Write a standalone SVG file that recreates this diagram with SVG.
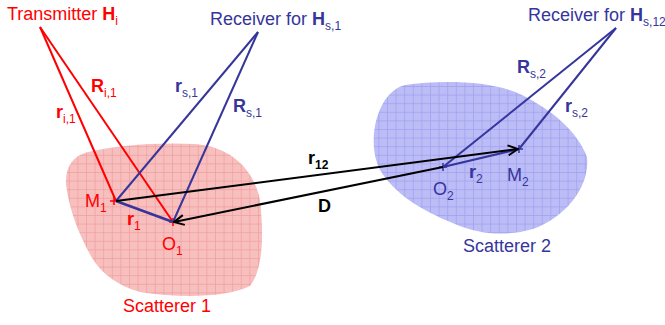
<svg xmlns="http://www.w3.org/2000/svg" width="665" height="325" viewBox="0 0 665 325">
<defs>
<style>
text{font-family:"Liberation Sans",Arial,sans-serif;font-size:18px}
.red{fill:#ff0000}
.blue{fill:#35359c}
.blk{fill:#000}
.b{font-weight:bold}
.sub{font-size:12px}
.lr{stroke:#ff0000;stroke-width:2;fill:none}
.lb{stroke:#35359c;stroke-width:2;fill:none}
.lk{stroke:#000;stroke-width:2;fill:none}
</style>
<pattern id="pg" width="8.6" height="8.6" patternUnits="userSpaceOnUse">
<rect width="8.6" height="8.6" fill="#f8bfbf"/>
<path d="M0,0.3H8.6M0.3,0V8.6" stroke="#f09a9a" stroke-width="0.8"/>
</pattern>
<pattern id="bg" width="8.6" height="8.6" patternUnits="userSpaceOnUse">
<rect width="8.6" height="8.6" fill="#bcbcf6"/>
<path d="M0,0.3H8.6M0.3,0V8.6" stroke="#9d9def" stroke-width="0.8"/>
</pattern>
<marker id="arr" viewBox="0 0 12 12" refX="11" refY="6" markerWidth="12" markerHeight="12" markerUnits="userSpaceOnUse" orient="auto">
<path d="M1,1 L11,6 L1,11" fill="none" stroke="#000" stroke-width="2"/>
</marker>
</defs>

<g id="scatterer1">
<path d="M88,152 C115,145 160,142 195,144 C232,147 254,170 260,200 C264,235 263,270 250,286 C225,298 180,298 140,292 C118,286 102,274 92,258 C82,240 70,215 66,185 C65,168 72,156 88,152 Z" fill="url(#pg)"/>
<text x="123" y="312" class="red">Scatterer 1</text>
</g>

<g id="scatterer2">
<path d="M405,85 C440,80 492,80 522,95 C552,110 578,132 587,157 C590,185 568,216 533,229 C505,237 478,234 455,224 C420,210 395,194 380,170 C370,150 372,120 385,100 C391,92 397,87 405,85 Z" fill="url(#bg)"/>
<text x="463" y="252" class="blue">Scatterer 2</text>
</g>

<g id="transmitter">
<text x="7" y="20" class="red">Transmitter <tspan class="b">H</tspan><tspan class="sub" dy="5">i</tspan></text>
</g>

<g id="receiver1">
<text x="210" y="25" class="blue">Receiver for <tspan class="b">H</tspan><tspan class="sub" dy="5">s,1</tspan></text>
</g>

<g id="receiver2">
<text x="528" y="21" class="blue">Receiver for <tspan class="b">H</tspan><tspan class="sub" dy="5">s,12</tspan></text>
</g>

<g id="M1">
<path d="M110,201H118M114,197V205" stroke="#ff0000" stroke-width="1.5"/>
<text x="85" y="207" class="red">M<tspan class="sub" dy="5">1</tspan></text>
</g>
<g id="O1">
<path d="M169,222H177M173,218V226" stroke="#ff0000" stroke-width="1.5"/>
<text x="162" y="250" class="red">O<tspan class="sub" dy="5">1</tspan></text>
</g>
<g id="M2">
<path d="M515,149H523M519,145V153" stroke="#35359c" stroke-width="1.5"/>
<text x="507" y="181" class="blue">M<tspan class="sub" dy="5">2</tspan></text>
</g>
<g id="O2">
<path d="M439,167H447M443,163V171" stroke="#35359c" stroke-width="1.5"/>
<text x="433" y="195" class="blue">O<tspan class="sub" dy="5">2</tspan></text>
</g>

<g id="connectors">
<line x1="40" y1="27" x2="116" y2="201" class="lr"/>
<line x1="40" y1="27" x2="173" y2="222" class="lr"/>
<line x1="258" y1="32" x2="116" y2="201" class="lb"/>
<line x1="258" y1="32" x2="173" y2="222" class="lb"/>
<line x1="616" y1="28" x2="519" y2="149" class="lb"/>
<line x1="616" y1="28" x2="443" y2="167" class="lb"/>
<line x1="116" y1="201" x2="173" y2="222" stroke="#35359c" stroke-width="2.5"/>
<line x1="443" y1="167" x2="519" y2="149" class="lb"/>
<line x1="116" y1="201" x2="518" y2="149" class="lk" marker-end="url(#arr)"/>
<line x1="443" y1="167" x2="174" y2="222" class="lk" marker-end="url(#arr)"/>

<text x="91" y="92" class="red b">R<tspan class="sub" font-weight="normal" dy="5">i,1</tspan></text>
<text x="56" y="118" class="red b">r<tspan class="sub" font-weight="normal" dy="5">i,1</tspan></text>
<text x="175" y="92" class="blue b">r<tspan class="sub" font-weight="normal" dy="5">s,1</tspan></text>
<text x="233" y="112" class="blue b">R<tspan class="sub" font-weight="normal" dy="5">s,1</tspan></text>
<text x="517" y="73" class="blue b">R<tspan class="sub" font-weight="normal" dy="5">s,2</tspan></text>
<text x="565" y="112" class="blue b">r<tspan class="sub" font-weight="normal" dy="5">s,2</tspan></text>
<text x="308" y="164" class="blk b">r<tspan class="sub" dy="5">12</tspan></text>
<text x="318" y="212" class="blk b">D</text>
<text x="127" y="225" class="red b">r<tspan class="sub" font-weight="normal" dy="5">1</tspan></text>
<text x="469" y="178" class="blue b">r<tspan class="sub" font-weight="normal" dy="5">2</tspan></text>
</g>
</svg>
